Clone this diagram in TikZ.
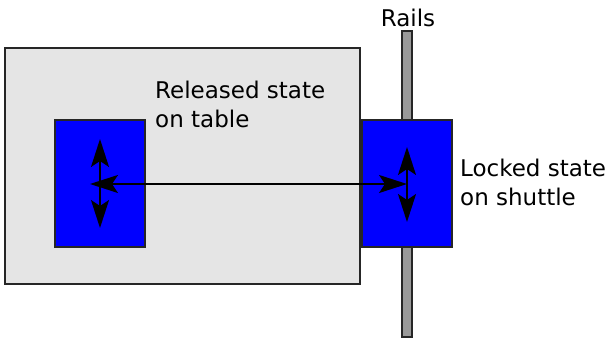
\documentclass[tikz,border=0pt]{standalone}
\usepackage{fontspec}
\setmainfont{DejaVu Sans}
\usetikzlibrary{arrows.meta}
\begin{document}
\begin{tikzpicture}[x=1pt,y=-1pt,
  box/.style={draw=black!85,line width=1.5pt},
  arr/.style={line width=2pt,{Stealth[length=28pt,width=18pt,inset=6pt]}-{Stealth[length=28pt,width=18pt,inset=6pt]}},
  lbl/.style={anchor=base west,inner sep=0pt,font=\fontsize{23}{29}\selectfont,text=black}]
\useasboundingbox (0,0) rectangle (610,340);
\path[box,fill=black!10] (5,48) rectangle (360,284);
\path[box,fill=black!40] (402,31) rectangle (412,337);
\path[box,fill=blue] (55,120) rectangle (145,247);
\path[box,fill=blue] (362,120) rectangle (452,247);
\coordinate (lt) at (100,139);
\coordinate (lb) at (100,228);
\coordinate (lc) at (90,184);
\coordinate (rc) at (407,184);
\coordinate (rt) at (407,147);
\coordinate (rb) at (407,222);
\draw[arr] (lt) -- (lb);
\draw[arr] (lc) -- (rc);
\draw[arr] (rt) -- (rb);
\node[lbl,anchor=base] (rails) at (408,26) {Rails};
\node[lbl] (rel1) at (155,98) {Released state};
\node[lbl] (rel2) at (155,127) {on table};
\node[lbl] (lock1) at (460,176) {Locked state};
\node[lbl] (lock2) at (460,205) {on shuttle};
\end{tikzpicture}
\end{document}
